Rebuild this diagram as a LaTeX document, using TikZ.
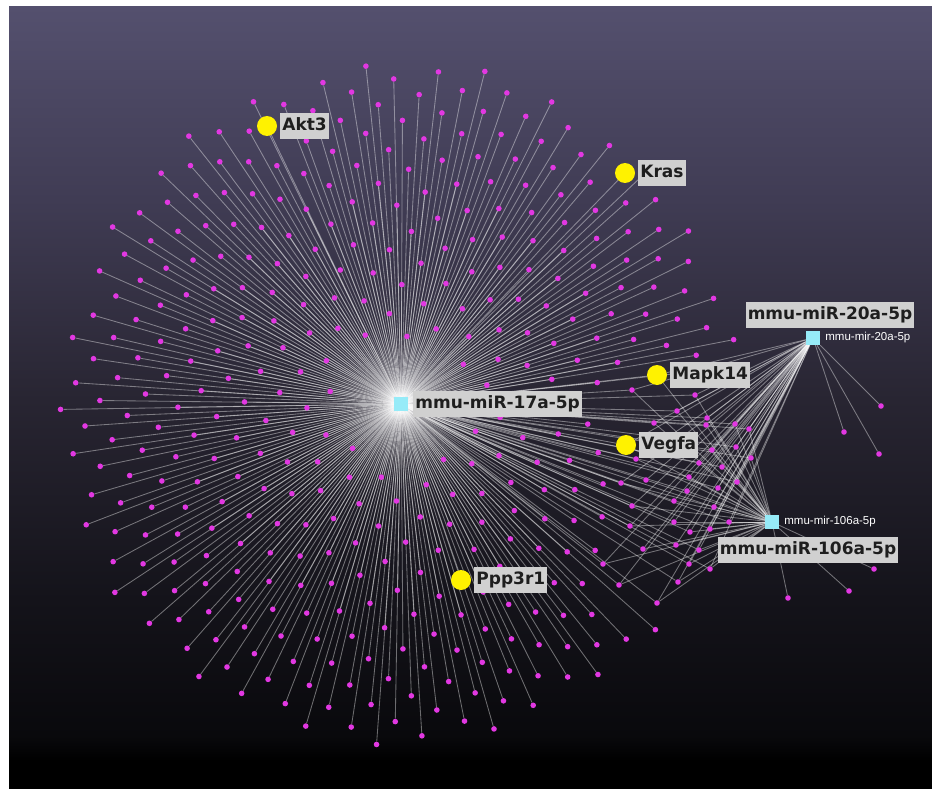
\documentclass[tikz,border=0pt]{standalone}
\usepackage{fontspec}
\setmainfont{DejaVu Sans}
\newfontfamily\arialf{Liberation Sans}
\pgfdeclarelayer{bglayer}
\pgfdeclarelayer{edgelayer}
\pgfsetlayers{bglayer,edgelayer,main}
\definecolor{bgtop}{RGB}{84,80,110}
\definecolor{bgA}{RGB}{64,60,84}
\definecolor{bgB}{RGB}{40,37,50}
\definecolor{bgC}{RGB}{20,19,26}
\definecolor{bgD}{RGB}{9,9,12}
\definecolor{dotc}{RGB}{226,56,226}
\definecolor{genec}{RGB}{255,242,0}
\definecolor{mirc}{RGB}{150,235,248}
\definecolor{lblc}{RGB}{208,208,208}
\definecolor{lbltext}{RGB}{30,30,30}
\pgfdeclareverticalshading{bgshade}{100bp}{color(0bp)=(black); color(26.8bp)=(black); color(28.4bp)=(bgD); color(37.1bp)=(bgC); color(49.9bp)=(bgB); color(62.7bp)=(bgA); color(75bp)=(bgtop); color(100bp)=(bgtop)}
\begin{document}
\begin{tikzpicture}[x=1pt,y=-1pt,
  dot/.style={circle,fill=dotc,inner sep=0pt,minimum size=5.6pt},
  gene/.style={circle,fill=genec,inner sep=0pt,minimum size=20pt},
  mir/.style={rectangle,fill=mirc,inner sep=0pt,minimum size=14pt},
  lbl/.style={rectangle,fill=lblc,text=lbltext,font=\bfseries\fontsize{17}{17}\selectfont,inner xsep=2pt,inner ysep=4.5pt,text height=13pt,text depth=4pt},
  smalllbl/.style={text=white,font=\arialf\fontsize{11.5}{12}\selectfont,inner sep=0pt},
  conn/.style={draw=white,draw opacity=0.4,line width=0.85pt}]
\useasboundingbox (0,0) rectangle (932,789);
\begin{pgfonlayer}{bglayer}
\fill[white] (0,0) rectangle (932,789);
\shade[shading=bgshade] (9,7) rectangle (932,789);
\end{pgfonlayer}
% hubs
\node[mir] (hub) at (401,404) {};
\node[mir] (mir20) at (813,338) {};
\node[mir] (mir106) at (772,522) {};
% genes
\node[gene] (akt3) at (267,126) {};
\node[gene] (kras) at (625,173) {};
\node[gene] (mapk14) at (657,375) {};
\node[gene] (vegfa) at (626,445) {};
\node[gene] (ppp3r1) at (461,580) {};
% radial targets of mmu-miR-17a-5p
\gdef\keptlist{akt3,kras,mapk14,vegfa,ppp3r1}
\foreach \i in {1,...,400}{
  \pgfmathsetmacro\fr{\i*0.381966-floor(\i*0.381966)}
  \pgfmathsetmacro\rad{343*sqrt(0.0343+0.9657*\i/400)}
  \pgfmathsetmacro\dx{\rad*cos(360*\fr)}
  \pgfmathsetmacro\dy{\rad*sin(360*\fr)}
  \pgfmathtruncatemacro\skipit{(((\dx>205)&&(\dy>-25)&&(\dy<215)) || ((abs(\dx+134)<15)&&(abs(\dy+278)<15)) || ((abs(\dx-224)<15)&&(abs(\dy+231)<15)) || ((abs(\dx-256)<15)&&(abs(\dy+29)<15)) || ((abs(\dx-60)<15)&&(abs(\dy-176)<15))) ? 1 : 0}
  \ifnum\skipit=0
    \node[dot] (d\i) at (401+\dx,404+\dy) {};
    \xdef\keptlist{\keptlist,d\i}
  \fi
}
% shared cluster
\foreach \cx/\cy [count=\k] in {632/390,695/395,677/411,707/418,654/423,706/425,735/424,749/429,636/459,712/450,736/447,751/458,699/463,722/467,689/477,646/480,737/482,621/483,718/488,687/491,674/501,714/507,632/506,729/522,674/522,630/526,710/529,690/532,676/545,643/549,699/550,603/564,689/564,710/569,678/582,619/585,657/603}{
  \node[dot] (c\k) at (\cx,\cy) {};
}
% exclusive targets
\node[dot] (e1) at (844,432) {};
\node[dot] (e2) at (881,406) {};
\node[dot] (e3) at (879,454) {};
\node[dot] (f1) at (874,569) {};
\node[dot] (f2) at (849,591) {};
\node[dot] (f3) at (788,598) {};
\begin{pgfonlayer}{edgelayer}
\foreach \n in \keptlist {\draw[conn] (hub) -- (\n);}
\foreach \k in {1,...,37} {
  \draw[conn] (hub) -- (c\k);
  \draw[conn] (mir20) -- (c\k);
  \draw[conn] (mir106) -- (c\k);
}
\foreach \n in {e1,e2,e3,mapk14,vegfa} {\draw[conn] (mir20) -- (\n);}
\foreach \n in {f1,f2,f3,mapk14,vegfa} {\draw[conn] (mir106) -- (\n);}
\end{pgfonlayer}
% labels
\node[lbl,anchor=west] (akt3l) at ([xshift=3pt]akt3.east) {Akt3};
\node[lbl,anchor=west] (krasl) at ([xshift=3pt]kras.east) {Kras};
\node[lbl,anchor=west] (mapk14l) at ([xshift=3pt]mapk14.east) {Mapk14};
\node[lbl,anchor=west] (vegfal) at ([xshift=3pt]vegfa.east) {Vegfa};
\node[lbl,anchor=west] (ppp3r1l) at ([xshift=3pt]ppp3r1.east) {Ppp3r1};
\node[lbl,anchor=west] (hubl) at ([xshift=5pt]hub.east) {mmu-miR-17a-5p};
\node[lbl] (mir20l) at (830,314.5) {mmu-miR-20a-5p};
\node[lbl] (mir106l) at (808,550) {mmu-miR-106a-5p};
\node[smalllbl,anchor=west] (mir20s) at ([xshift=5pt]mir20.east) {mmu-mir-20a-5p};
\node[smalllbl,anchor=west] (mir106s) at ([xshift=5pt]mir106.east) {mmu-mir-106a-5p};
\end{tikzpicture}
\end{document}
